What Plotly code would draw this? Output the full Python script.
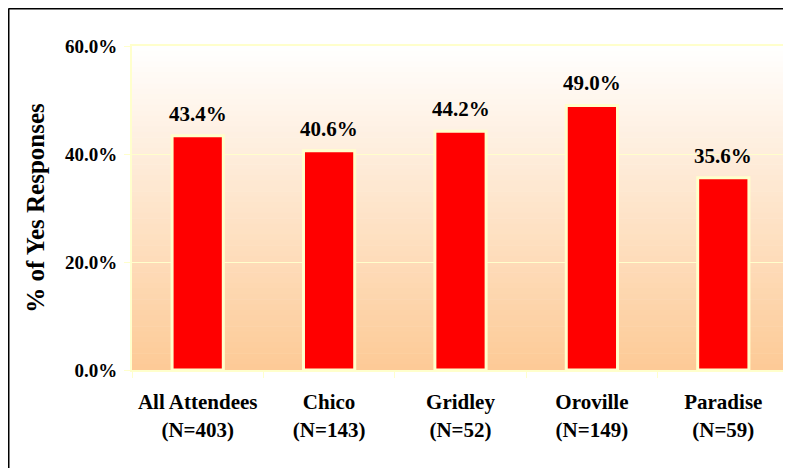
import plotly.graph_objects as go

categories = ["All Attendees", "Chico", "Gridley", "Oroville", "Paradise"]
sample_sizes = [403, 143, 52, 149, 59]
yes_pct = [43.4, 40.6, 44.2, 49.0, 35.6]
y_ticks = [0, 20, 40, 60]
y_tick_labels = ["0.0%", "20.0%", "40.0%", "60.0%"]

x_labels = [f"{c}<br>(N={n})" for c, n in zip(categories, sample_sizes)]

FONT = "Liberation Serif"
PALE = "#FFFFCC"

fig = go.Figure()
fig.add_trace(go.Bar(
    x=x_labels, y=yes_pct,
    marker=dict(color="#FF0000", line=dict(color=PALE, width=3)),
    width=0.39,
    hoverinfo="skip",
))

for xl, v in zip(x_labels, yes_pct):
    fig.add_annotation(x=xl, y=v, text=f"<b>{v:.1f}%</b>", showarrow=False,
                       yanchor="middle", yshift=22,
                       font=dict(family=FONT, size=21, color="#000000"))

# gradient plot background (white at top to peach at bottom)
n = 60
top = (255, 255, 255)
bot = (253, 202, 150)
shapes = []
for i in range(n):
    t = (i + 0.5) / n
    c = tuple(round(top[k] + (bot[k] - top[k]) * t) for k in range(3))
    shapes.append(dict(type="rect", xref="x domain", yref="y domain",
                       x0=0, x1=1, y0=1 - (i + 1) / n, y1=1 - i / n + 0.002,
                       fillcolor=f"rgb{c}", line=dict(width=0), layer="below"))
# outer chart border (top and left)
FW, FH = 783, 460
L, R, T, B = 124, 2, 38, 98
W, H = FW - L - R, FH - T - B
bx = (0.5 - L) / W
by = 1 + (T - 0.5) / H
shapes.append(dict(type="line", xref="paper", yref="paper", x0=bx, x1=1.2, y0=by, y1=by,
                   line=dict(color="#000000", width=2)))
shapes.append(dict(type="line", xref="paper", yref="paper", x0=bx, x1=bx, y0=by, y1=-0.5,
                   line=dict(color="#000000", width=2)))

fig.update_layout(
    width=FW, height=FH,
    margin=dict(l=L, r=R, t=T, b=B),
    paper_bgcolor="#FFFFFF", plot_bgcolor="#FFFFFF",
    showlegend=False,
    shapes=shapes,
    font=dict(family=FONT, color="#000000"),
    xaxis=dict(
        automargin=False, tickangle=0,
        tickfont=dict(family=FONT, size=21, color="#000000", weight="bold"),
        showgrid=False, showline=True, linecolor=PALE, linewidth=2, mirror=True,
        ticks="outside", ticklen=6, tickcolor=PALE, tickson="boundaries",
        ticklabelstandoff=12,
    ),
    yaxis=dict(
        automargin=False,
        range=[0, 60], tickvals=y_ticks, ticktext=y_tick_labels,
        tickfont=dict(family=FONT, size=19, color="#000000", weight="bold"),
        showgrid=True, gridcolor=PALE, gridwidth=1,
        showline=True, linecolor=PALE, linewidth=2, mirror=True,
        ticks="outside", ticklen=6, tickcolor=PALE, ticklabelstandoff=3,
        zeroline=False,
        title=dict(text="% of Yes Responses", standoff=13,
                   font=dict(family=FONT, size=25, color="#000000", weight="bold")),
    ),
)

fig.write_html("out.html")
